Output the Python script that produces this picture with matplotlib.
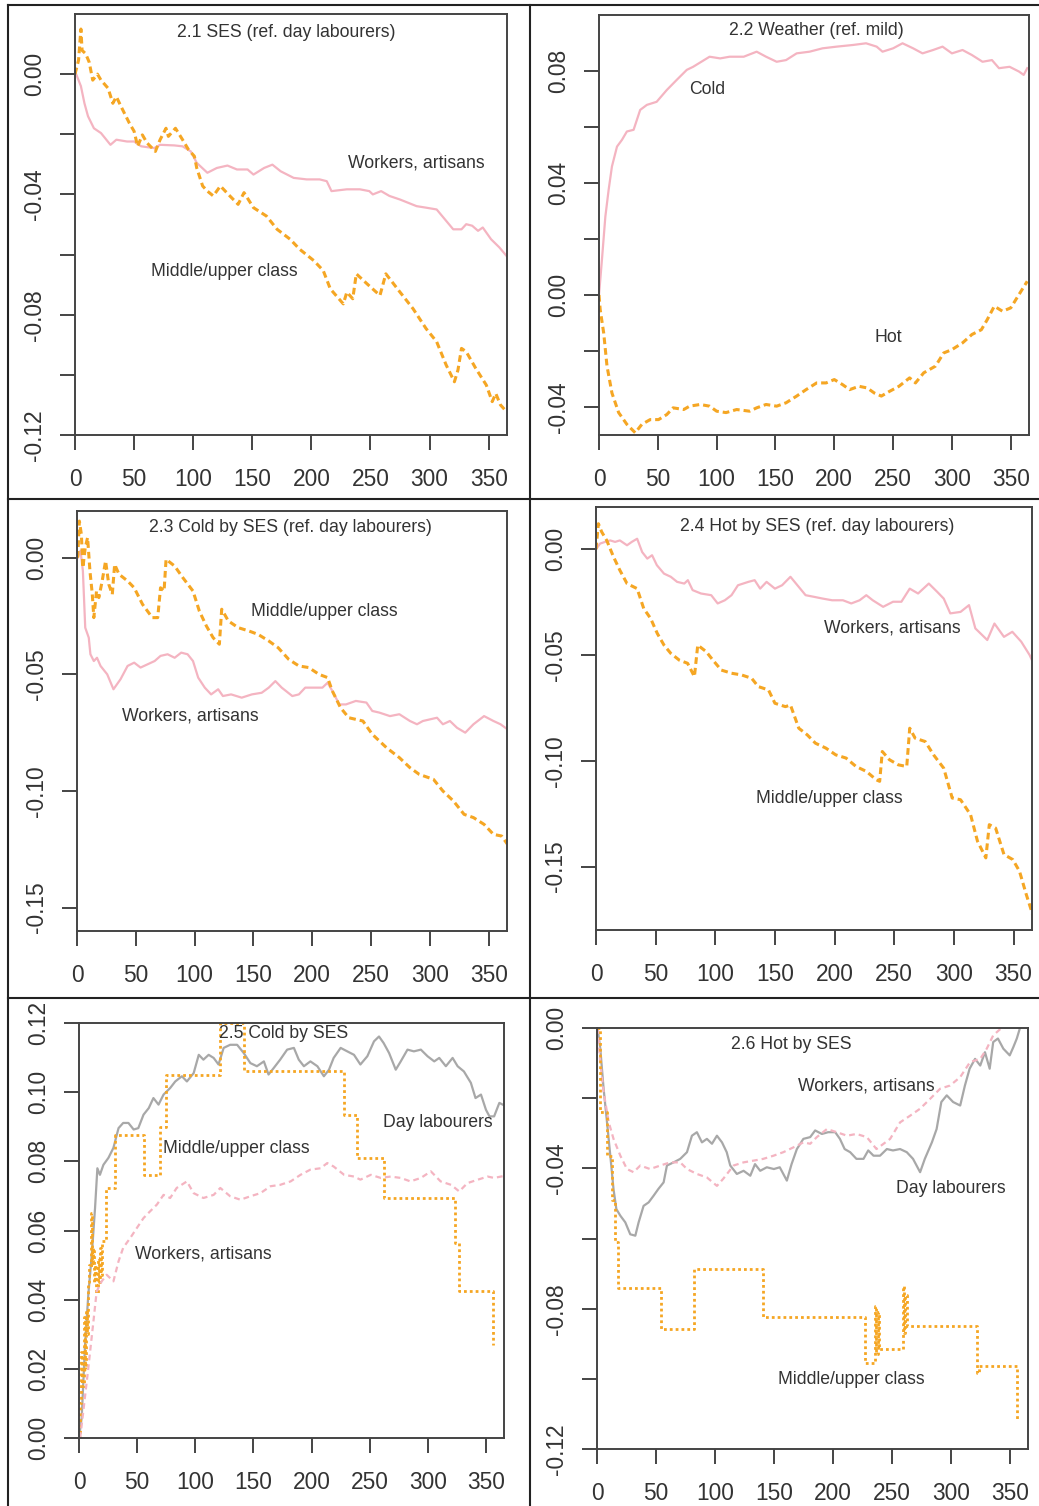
import matplotlib
matplotlib.use("Agg")
import matplotlib.pyplot as plt
from matplotlib.lines import Line2D

plt.rcParams['font.family'] = ['Liberation Sans', 'DejaVu Sans']

W, H = 1039, 1506

PINK = '#F4B4C1'
ORANGE = '#F5A623'
GRAY = '#A8A8A8'
TXT = '#333333'
AX = '#444444'

# ---- data (day, effect) ----
p1_workers = [(1, 0), (5, -0.004), (8, -0.0097), (11, -0.014), (16, -0.018), (22, -0.0196), (30, -0.0235),
              (35, -0.0218), (44, -0.0224), (50, -0.0224), (56, -0.024), (67, -0.0246), (72, -0.0235),
              (84, -0.0237), (91, -0.024), (98, -0.0257), (103, -0.0295), (112, -0.0328), (120, -0.0312),
              (129, -0.0304), (137, -0.0317), (146, -0.0317), (151, -0.0334), (160, -0.0312), (167, -0.0301),
              (174, -0.0323), (185, -0.0345), (196, -0.035), (207, -0.035), (213, -0.0356), (217, -0.0389),
              (230, -0.0383), (241, -0.0383), (249, -0.0389), (252, -0.04), (259, -0.0389), (266, -0.0405),
              (275, -0.0417), (289, -0.0439), (297, -0.0444), (306, -0.045), (313, -0.0483), (320, -0.0516),
              (327, -0.0516), (331, -0.0499), (336, -0.0504), (341, -0.0521), (345, -0.051), (352, -0.0549),
              (359, -0.0576), (365, -0.0604)]
p1_middle = [(0, 0), (3, 0.0046), (5, 0.015), (6, 0.0079), (9, 0.0068), (12, 0.004), (15, -0.002), (19, 0),
             (22, -0.002), (28, -0.0047), (32, -0.0097), (35, -0.0075), (39, -0.0108), (46, -0.0163),
             (50, -0.019), (53, -0.024), (57, -0.0202), (61, -0.0229), (68, -0.0257), (72, -0.0218),
             (77, -0.018), (79, -0.0207), (85, -0.018), (91, -0.0218), (96, -0.0251), (101, -0.0273),
             (103, -0.0312), (108, -0.0372), (112, -0.0389), (117, -0.0405), (123, -0.0372), (131, -0.0405),
             (138, -0.0433), (143, -0.0394), (151, -0.0444), (162, -0.0472), (171, -0.0516), (182, -0.0549),
             (190, -0.0582), (202, -0.062), (210, -0.0653), (216, -0.0714), (227, -0.0764), (230, -0.0725),
             (235, -0.0747), (238, -0.0664), (247, -0.0697), (258, -0.0736), (263, -0.0664), (275, -0.0725),
             (286, -0.078), (297, -0.0846), (306, -0.089), (314, -0.0967), (321, -0.1023), (324, -0.0984),
             (327, -0.0912), (331, -0.0923), (339, -0.0978), (348, -0.1034), (353, -0.1089), (356, -0.1062),
             (360, -0.11), (365, -0.1122)]

p2_cold = [(0, 0), (2.5, 0.0126), (5.4, 0.028), (8.2, 0.0376), (11, 0.0459), (15.3, 0.053), (19.5, 0.0554),
           (23.7, 0.0584), (29.4, 0.059), (35, 0.0661), (40.7, 0.0679), (49, 0.069), (57.6, 0.0732),
           (66, 0.0768), (74.6, 0.0804), (80, 0.0815), (87, 0.0833), (94, 0.0851), (103, 0.0845),
           (111, 0.0851), (123, 0.0851), (134, 0.0869), (142, 0.0851), (151, 0.0833), (159, 0.0839),
           (168, 0.0863), (179, 0.0869), (190, 0.0881), (202, 0.0887), (216, 0.0893), (227, 0.0899),
           (236, 0.0887), (241, 0.0869), (250, 0.0881), (258, 0.0899), (267, 0.0881), (275, 0.0863),
           (284, 0.0875), (292, 0.0887), (300, 0.0863), (309, 0.0875), (317, 0.0857), (326, 0.0833),
           (334, 0.0839), (340, 0.081), (349, 0.0815), (357, 0.0798), (361, 0.0786), (364, 0.081)]
p2_hot = [(0, 0), (1, -0.0052), (4, -0.0136), (6.8, -0.0254), (11, -0.035), (16.7, -0.042), (23.7, -0.0462),
          (30.8, -0.0492), (36.4, -0.0462), (43.5, -0.0445), (50.6, -0.0445), (57.6, -0.0427), (63, -0.0403),
          (72, -0.0409), (77, -0.0397), (86, -0.0391), (94, -0.0397), (100, -0.0415), (108, -0.042),
          (117, -0.0409), (128, -0.0415), (134, -0.0403), (142, -0.0391), (151, -0.0397), (159, -0.0385),
          (168, -0.0361), (176, -0.0338), (185, -0.0314), (193, -0.0314), (200, -0.0302), (207, -0.032),
          (213, -0.0338), (221, -0.0326), (228, -0.0332), (234, -0.035), (240, -0.0361), (247, -0.0344),
          (255, -0.0326), (264, -0.0296), (269, -0.0314), (276, -0.0278), (286, -0.0254), (293, -0.0207),
          (300, -0.0195), (309, -0.0171), (317, -0.0141), (325, -0.0124), (330, -0.0088), (336, -0.004),
          (343, -0.0058), (350, -0.0046), (356, -0.0005), (364, 0.0049)]

p3_workers = [(0.6, 0), (3, 0.003), (5, -0.0057), (7, -0.03), (10, -0.0343), (11.4, -0.0414), (14.3, -0.0443),
              (17, -0.0429), (20, -0.0464), (25.7, -0.05), (31, -0.0564), (37, -0.0521), (43, -0.0464),
              (48.6, -0.045), (54, -0.0471), (60, -0.0457), (66, -0.0443), (71, -0.0421), (77, -0.0414),
              (83, -0.0429), (88.6, -0.0407), (94, -0.0414), (98.6, -0.0443), (103, -0.0514), (108.6, -0.0557),
              (114, -0.0586), (120, -0.0564), (124, -0.0593), (131, -0.0586), (140, -0.06), (148.6, -0.0586),
              (157, -0.0579), (163, -0.0557), (168.6, -0.0529), (174, -0.0557), (183, -0.0593), (188.6, -0.0586),
              (194, -0.0557), (201, -0.0557), (208.6, -0.0557), (213, -0.0536), (217, -0.0571), (223, -0.0629),
              (228.6, -0.0629), (237, -0.0614), (246, -0.0621), (251, -0.0657), (257, -0.0664), (266, -0.0679),
              (274, -0.0671), (283, -0.07), (289, -0.0714), (294, -0.07), (306, -0.0686), (311, -0.0714),
              (317, -0.07), (323, -0.0729), (330, -0.075), (337, -0.0714), (346, -0.0679), (354, -0.07),
              (360, -0.0714), (366, -0.0736)]
p3_middle = [(0.6, 0), (2, 0.0157), (3.7, 0.01), (5, -0.0043), (7, 0.0043), (9, 0.0086), (11, -0.0057),
             (13, -0.0157), (14.3, -0.0257), (16.6, -0.0143), (18.6, -0.0171), (21.4, -0.01), (24.3, -0.0014),
             (27, -0.0114), (30, -0.0157), (32, -0.0029), (35.7, -0.0071), (43, -0.01), (48.6, -0.0129),
             (55.7, -0.02), (64, -0.0257), (68.6, -0.0257), (71, -0.0129), (74, -0.0143), (75.7, -0.0007),
             (83, -0.0036), (90, -0.0086), (98.6, -0.0143), (104, -0.0229), (110, -0.0293), (115.7, -0.0343),
             (121, -0.0371), (123, -0.0221), (128.6, -0.0271), (137, -0.03), (146, -0.0314), (154, -0.0329),
             (163, -0.0357), (171, -0.0386), (180, -0.0436), (188.6, -0.0464), (197, -0.0471), (205.7, -0.05),
             (213, -0.0514), (217, -0.0571), (224, -0.0643), (231, -0.0686), (243, -0.07), (251, -0.0757),
             (263, -0.0814), (274, -0.0857), (283, -0.09), (291, -0.0929), (303, -0.095), (311, -0.1),
             (320, -0.1043), (329, -0.11), (337, -0.1114), (346, -0.1143), (354, -0.1186), (361, -0.1193),
             (366, -0.1229)]

p4_workers = [(0, 0), (3.4, 0.0027), (7.6, 0.0035), (11.9, 0.0042), (16, 0.0035), (20, 0.0042), (26, 0.0019),
              (30, 0.0035), (34.5, 0.005), (38.7, -0.0013), (43, -0.0044), (47, -0.0028), (51, -0.0075),
              (57, -0.0115), (62.7, -0.013), (68, -0.0154), (74, -0.0162), (77, -0.0146), (81, -0.0193),
              (88, -0.0209), (96.6, -0.0217), (102, -0.0256), (108, -0.0241), (113.6, -0.0217), (119, -0.017),
              (127.7, -0.0154), (133, -0.0146), (137.6, -0.0186), (143, -0.0154), (150, -0.0186), (156, -0.017),
              (163, -0.013), (170, -0.0178), (175.7, -0.0217), (183, -0.0225), (190, -0.0233), (198, -0.0241),
              (207, -0.0241), (214, -0.0256), (221, -0.0241), (226.6, -0.0217), (232, -0.0241), (240.7, -0.0272),
              (249, -0.0248), (256, -0.0248), (263, -0.0186), (270, -0.0209), (279, -0.0162), (286, -0.0201),
              (291.5, -0.0233), (297, -0.0303), (305.6, -0.0296), (312.7, -0.0264), (318, -0.0374), (328, -0.0429),
              (334, -0.0351), (342, -0.0414), (349, -0.039), (356.5, -0.0437), (363.5, -0.05), (368, -0.0555)]
p4_middle = [(0, 0), (2, 0.0121), (4.8, 0.0082), (9, 0.0042), (14.7, -0.0036), (20, -0.0099), (26, -0.0162),
             (34.5, -0.0186), (40, -0.028), (45.8, -0.0327), (51.4, -0.0398), (57, -0.0453), (62.7, -0.0492),
             (69.8, -0.0524), (76.8, -0.0539), (82.5, -0.0602), (85.3, -0.0453), (92.4, -0.0484), (98, -0.0524),
             (105, -0.0571), (113.6, -0.0586), (122, -0.0594), (130.5, -0.061), (136, -0.0649), (144.6, -0.0665),
             (150, -0.0728), (158.8, -0.0744), (163, -0.0736), (170, -0.0846), (177, -0.0877), (184, -0.0917),
             (192.7, -0.094), (201, -0.0972), (209.6, -0.0987), (218, -0.1027), (226.6, -0.105), (235, -0.109),
             (237.8, -0.1097), (240, -0.0956), (246, -0.0995), (253.4, -0.1019), (260.5, -0.1027), (263, -0.0846),
             (267.5, -0.0893), (276, -0.0909), (283, -0.0972), (291.5, -0.1035), (298.6, -0.1176),
             (305.6, -0.1184), (314, -0.1255), (319.8, -0.138), (326.8, -0.1459), (329.7, -0.1302),
             (335, -0.1318), (342, -0.1443), (349.4, -0.1467), (355, -0.1522), (360.7, -0.1632), (367.8, -0.1758)]

p5_day = [(0, 0), (2.3, 0.0058), (5.2, 0.027), (8, 0.0414), (11, 0.053), (13.8, 0.0665), (15.8, 0.078),
          (18, 0.0761), (21, 0.079), (25.3, 0.081), (29.6, 0.0839), (34, 0.0896), (38, 0.0911), (42.5, 0.0911),
          (47, 0.0892), (51, 0.0896), (55.5, 0.0935), (60, 0.0954), (64, 0.0983), (68.4, 0.0964), (72.7, 0.0993),
          (78.4, 0.1012), (82.8, 0.1031), (88.5, 0.1046), (92.8, 0.1031), (98.6, 0.1055), (103, 0.1108),
          (107, 0.1094), (111.5, 0.1108), (115.8, 0.1099), (120, 0.108), (124.4, 0.1128), (130, 0.1137),
          (136, 0.1137), (141.7, 0.1113), (147.4, 0.1084), (153, 0.1075), (159, 0.1089), (163, 0.1051),
          (167.5, 0.107), (173, 0.1094), (179, 0.1123), (184.8, 0.1128), (189, 0.1094), (193.4, 0.1075),
          (199, 0.1089), (205, 0.1075), (210.6, 0.1046), (215, 0.1065), (219, 0.1099), (225, 0.1128),
          (230.7, 0.1118), (236.5, 0.1108), (242, 0.108), (248, 0.1104), (253.7, 0.1147), (258, 0.1161),
          (262, 0.1142), (266.7, 0.1113), (272.4, 0.1065), (276.7, 0.1089), (282.5, 0.1123), (288, 0.1118),
          (294, 0.1123), (299.7, 0.1104), (305.5, 0.1089), (309.8, 0.1099), (315.5, 0.1075), (321.3, 0.1099),
          (325.6, 0.1075), (331, 0.106), (337, 0.1027), (341, 0.0983), (345.7, 0.0993), (350, 0.0949),
          (353, 0.093), (357, 0.093), (361.5, 0.0969), (364.4, 0.0964)]
p5_workers = [(1, 0), (3.7, 0.0077), (8, 0.0202), (12.4, 0.0337), (15.2, 0.0424), (19.5, 0.0453), (23.8, 0.0472),
              (29.6, 0.0453), (34, 0.0511), (38, 0.055), (44, 0.0578), (49.7, 0.0607), (55.5, 0.0636),
              (61, 0.0655), (67, 0.0675), (72.7, 0.0703), (78.4, 0.0694), (84, 0.0723), (92.8, 0.0742),
              (98.6, 0.0708), (107, 0.0694), (115.8, 0.0703), (121.5, 0.0723), (130, 0.0699), (138.8, 0.0689),
              (147.4, 0.0699), (156, 0.0708), (164.7, 0.0728), (173, 0.0732), (182, 0.0742), (190.5, 0.0761),
              (199, 0.0776), (207.8, 0.078), (213.5, 0.0795), (219, 0.0785), (228, 0.0761), (236.5, 0.0756),
              (242, 0.0747), (251, 0.0761), (259.5, 0.0752), (268, 0.0756), (276.7, 0.0752), (285, 0.0742),
              (294, 0.0752), (302.6, 0.0771), (311, 0.0742), (320, 0.0732), (327, 0.0713), (334, 0.0737),
              (343, 0.0747), (351.4, 0.0756), (357, 0.0752), (364.4, 0.0757)]
p5_middle = [(0, 0), (1, 0.01), (2, 0.025), (3, 0.015), (4, 0.035), (5, 0.02), (6, 0.037), (7, 0.03), (8, 0.045),
             (9, 0.05), (10, 0.065), (11, 0.05), (12, 0.055), (13, 0.045), (14, 0.05), (15, 0.042), (16, 0.052),
             (17, 0.045), (18, 0.055), (19, 0.047), (20, 0.057), (23, 0.0723), (31, 0.0877), (55.5, 0.0761),
             (70, 0.09), (74.7, 0.105), (121.5, 0.12), (141.7, 0.106), (228, 0.0935), (239, 0.081),
             (262, 0.0694), (323, 0.0564), (327, 0.0424), (356, 0.027)]

p6_day = [(0.5, 0), (2.8, -0.0059), (5.6, -0.0173), (8.5, -0.0269), (11.3, -0.0364), (14, -0.0459),
          (16.4, -0.0516), (19.8, -0.0535), (24, -0.0554), (28.2, -0.0588), (32.5, -0.0592), (35.3, -0.0554),
          (39.5, -0.0507), (43.8, -0.0497), (48, -0.0478), (52, -0.0459), (56.5, -0.044), (59.3, -0.0392),
          (65, -0.0383), (70.6, -0.0373), (76.3, -0.0354), (80.5, -0.0307), (84.7, -0.0297), (89, -0.0326),
          (93.2, -0.0316), (97.5, -0.033), (101.7, -0.0307), (106, -0.0326), (110, -0.0354), (113, -0.0392),
          (118.6, -0.0416), (124.3, -0.0407), (130, -0.0421), (134, -0.0388), (138.4, -0.0407), (144, -0.0397),
          (150, -0.0402), (155, -0.0397), (161, -0.0435), (165, -0.0388), (169.5, -0.0345), (175, -0.0316),
          (180.8, -0.0311), (185, -0.0292), (190.7, -0.0302), (196, -0.0297), (202, -0.0297), (206, -0.0316),
          (210, -0.0345), (214.7, -0.0354), (220, -0.0373), (226, -0.0373), (230, -0.0349), (234.5, -0.0364),
          (240, -0.0364), (245.8, -0.0345), (251, -0.0349), (257, -0.0345), (262.7, -0.0354), (268, -0.0373),
          (274, -0.0411), (278, -0.0373), (284, -0.0326), (288, -0.0288), (292, -0.0211), (296.6, -0.0192),
          (302, -0.0211), (308, -0.0221), (312, -0.0164), (316, -0.0116), (320.6, -0.0088), (325, -0.0107),
          (329, -0.0069), (333, -0.0116), (336, -0.004), (340, -0.003), (344.6, -0.0059), (350, -0.0078),
          (353, -0.0055), (356, -0.003), (358.7, 0), (364, 0.0017)]
p6_workers = [(0.5, 0), (2.8, -0.0097), (5.6, -0.0183), (10, -0.0269), (14, -0.0316), (19.8, -0.0364),
              (25.4, -0.0402), (31, -0.0411), (36.7, -0.0392), (45, -0.0402), (53.7, -0.0392), (62, -0.0383),
              (70.6, -0.0383), (76.3, -0.0402), (84.7, -0.0416), (93.2, -0.0426), (101.7, -0.045), (107, -0.043),
              (115.8, -0.0392), (124.3, -0.0383), (132.8, -0.0378), (141, -0.0373), (149.7, -0.0364),
              (158, -0.0354), (166.7, -0.034), (175, -0.0326), (180.8, -0.033), (186.4, -0.0311), (195, -0.0288),
              (203.4, -0.0297), (212, -0.0307), (220, -0.0302), (228.8, -0.0311), (237, -0.0345), (243, -0.033),
              (248.6, -0.0316), (257, -0.0269), (265.5, -0.025), (274, -0.023), (282.5, -0.0202), (291, -0.0173),
              (299.4, -0.0164), (308, -0.014), (316.4, -0.0097), (325, -0.0088), (330.5, -0.0059),
              (336, -0.0021), (343, 0), (350, 0.0003), (358.7, 0.0008)]
p6_middle = [(0, 0), (2.8, -0.024), (8.5, -0.0364), (12.7, -0.0489), (15.5, -0.0611), (17.5, -0.074),
             (54, -0.0859), (82, -0.0688), (140.7, -0.0824), (227.4, -0.0954), (236, -0.0792), (237, -0.093),
             (238, -0.081), (239, -0.0916), (259.3, -0.0735), (260.5, -0.087), (261.5, -0.076), (262.7, -0.085),
             (322, -0.0983), (324, -0.0964), (356, -0.1116)]

x_ticks = [0, 50, 100, 150, 200, 250, 300, 350]

fig = plt.figure(figsize=(W / 100, H / 100), dpi=100)


def make_ax(l, t, r, b, ylim, yticks, ylabels):
    ax = fig.add_axes([l / W, 1 - b / H, (r - l) / W, (b - t) / H])
    ax.set_xlim(0, 365.5)
    ax.set_ylim(*ylim)
    ax.set_xticks(x_ticks)
    ax.set_xticklabels([str(v) for v in x_ticks])
    ax.set_yticks(yticks)
    ax.set_yticklabels(ylabels, rotation=90, va='center')
    for s in ax.spines.values():
        s.set_linewidth(1.4)
        s.set_color(AX)
    ax.tick_params(direction='out', length=10.8, width=1.4, color=AX,
                   labelsize=16.4, labelcolor=TXT)
    ax.tick_params(axis='x', pad=13)
    ax.tick_params(axis='y', pad=10)
    return ax


def lab(ax, x, y, s):
    ax.text(x, y, s, ha='center', va='center', fontsize=12.7, color=TXT)


def xy(pairs):
    return [p[0] for p in pairs], [p[1] for p in pairs]


def fmt(v):
    return '%.2f' % v if abs(v) > 1e-9 else '0.00'


def ticklabs(ticks, show):
    return [fmt(t) if round(t, 3) in show else '' for t in ticks]


dash = (0, (2.2, 1.3))
sdash = (0, (2.6, 1.8))
dot = (0, (1, 1.1))

# 2.1
t1 = [-0.12, -0.10, -0.08, -0.06, -0.04, -0.02, 0.00]
ax = make_ax(75, 14, 507, 435, (-0.12, 0.02), t1, ticklabs(t1, [-0.12, -0.08, -0.04, 0.0]))
ax.plot(*xy(p1_workers), color=PINK, lw=1.6)
ax.plot(*xy(p1_middle), color=ORANGE, lw=2.2, ls=dash)
lab(ax, 178.6, 0.014, '2.1 SES (ref. day labourers)')
lab(ax, 289, -0.0295, 'Workers, artisans')
lab(ax, 126, -0.0657, 'Middle/upper class')

# 2.2
t2 = [-0.04, -0.02, 0.00, 0.02, 0.04, 0.06, 0.08]
ax = make_ax(599, 15, 1029, 435, (-0.05, 0.10), t2, ticklabs(t2, [-0.04, 0.0, 0.04, 0.08]))
ax.plot(*xy(p2_cold), color=PINK, lw=1.6)
ax.plot(*xy(p2_hot), color=ORANGE, lw=2.2, ls=dash)
lab(ax, 184.7, 0.0944, '2.2 Weather (ref. mild)')
lab(ax, 92, 0.0735, 'Cold')
lab(ax, 245.5, -0.0153, 'Hot')

# 2.3
t3 = [-0.15, -0.10, -0.05, 0.00]
ax = make_ax(77, 511, 507, 931, (-0.16, 0.02), t3, [fmt(t) for t in t3])
ax.plot(*xy(p3_workers), color=PINK, lw=1.6)
ax.plot(*xy(p3_middle), color=ORANGE, lw=2.2, ls=dash)
lab(ax, 181.4, 0.0129, '2.3 Cold by SES (ref. day labourers)')
lab(ax, 210.6, -0.0231, 'Middle/upper class')
lab(ax, 96.6, -0.0679, 'Workers, artisans')

# 2.4
ax = make_ax(596, 507, 1032, 930, (-0.18, 0.02), t3, [fmt(t) for t in t3])
ax.plot(*xy(p4_workers), color=PINK, lw=1.6)
ax.plot(*xy(p4_middle), color=ORANGE, lw=2.2, ls=dash)
lab(ax, 185.6, 0.0108, '2.4 Hot by SES (ref. day labourers)')
lab(ax, 248.3, -0.0374, 'Workers, artisans')
lab(ax, 195.5, -0.1176, 'Middle/upper class')

# 2.5
t5 = [0.00, 0.02, 0.04, 0.06, 0.08, 0.10, 0.12]
ax = make_ax(79, 1023, 504, 1438, (0.0, 0.12), t5, [fmt(t) for t in t5])
ax.plot(*xy(p5_day), color=GRAY, lw=1.6)
ax.plot(*xy(p5_middle), color=ORANGE, lw=2.0, ls=dot, drawstyle='steps-post')
ax.plot(*xy(p5_workers), color=PINK, lw=1.6, ls=sdash)
lab(ax, 176, 0.1171, '2.5 Cold by SES')
lab(ax, 309, 0.0911, 'Day labourers')
lab(ax, 135, 0.0837, 'Middle/upper class')
lab(ax, 106.6, 0.0532, 'Workers, artisans')

# 2.6
t6 = [-0.12, -0.10, -0.08, -0.06, -0.04, -0.02, 0.00]
ax = make_ax(597, 1028, 1028, 1449, (-0.12, 0.0), t6, ticklabs(t6, [-0.12, -0.08, -0.04, 0.0]))
ax.plot(*xy(p6_day), color=GRAY, lw=1.6)
ax.plot(*xy(p6_workers), color=PINK, lw=1.6, ls=sdash)
ax.plot(*xy(p6_middle), color=ORANGE, lw=2.0, ls=dot, drawstyle='steps-post')
lab(ax, 165, -0.0048, '2.6 Hot by SES')
lab(ax, 228.8, -0.0166, 'Workers, artisans')
lab(ax, 300, -0.0457, 'Day labourers')
lab(ax, 216, -0.1002, 'Middle/upper class')

# table grid around the panels (pixel coordinates)
def hline(y, x0, x1):
    fig.add_artist(Line2D([x0 / W, x1 / W], [1 - y / H, 1 - y / H], color='#222222', lw=1.5))


def vline(x, y0, y1):
    fig.add_artist(Line2D([x / W, x / W], [1 - y0 / H, 1 - y1 / H], color='#222222', lw=1.5))


hline(5, 8, W)
hline(499, 8, W)
hline(998, 8, W)
vline(8, 5, H)
vline(530, 5, H)

fig.savefig('out.png', dpi=100)
